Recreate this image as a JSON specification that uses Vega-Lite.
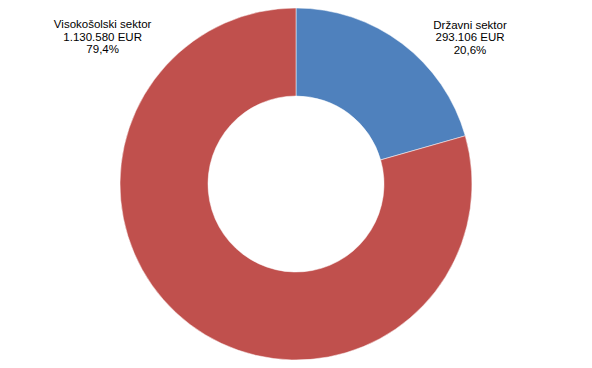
{
  "$schema": "https://vega.github.io/schema/vega-lite/v6.json",
  "width": 592,
  "height": 368,
  "autosize": {"type": "fit", "contains": "padding"},
  "padding": 0,
  "background": "white",
  "config": {"view": {"stroke": null}},
  "data": {
    "values": [
      {"sektor": "Državni sektor", "eur": 293106, "label": "Državni sektor\n293.106 EUR\n20,6%", "order": 1},
      {"sektor": "Visokošolski sektor", "eur": 1130580, "label": "Visokošolski sektor\n1.130.580 EUR\n79,4%", "order": 2}
    ]
  },
  "encoding": {
    "theta": {"field": "eur", "type": "quantitative", "stack": true},
    "order": {"field": "order", "type": "quantitative"}
  },
  "layer": [
    {
      "mark": {"type": "arc", "outerRadius": 176, "innerRadius": 88, "stroke": "white", "strokeWidth": 0.5},
      "encoding": {
        "color": {
          "field": "sektor",
          "type": "nominal",
          "scale": {"domain": ["Državni sektor", "Visokošolski sektor"], "range": ["#4F81BD", "#C0504D"]},
          "legend": null
        }
      }
    },
    {
      "transform": [{"filter": "datum.order == 1"}],
      "mark": {"type": "text", "radius": 229, "dx": 36, "dy": 24.5, "align": "center", "baseline": "middle", "lineBreak": "\n", "font": "Liberation Sans", "fontSize": 11.5, "lineHeight": 12.5, "color": "#000000"},
      "encoding": {"text": {"field": "label"}}
    },
    {
      "transform": [{"filter": "datum.order == 2"}],
      "mark": {"type": "text", "radius": 245, "dx": -341, "dy": -354.5, "align": "center", "baseline": "middle", "lineBreak": "\n", "font": "Liberation Sans", "fontSize": 11.5, "lineHeight": 12.5, "color": "#000000"},
      "encoding": {"text": {"field": "label"}}
    }
  ]
}
